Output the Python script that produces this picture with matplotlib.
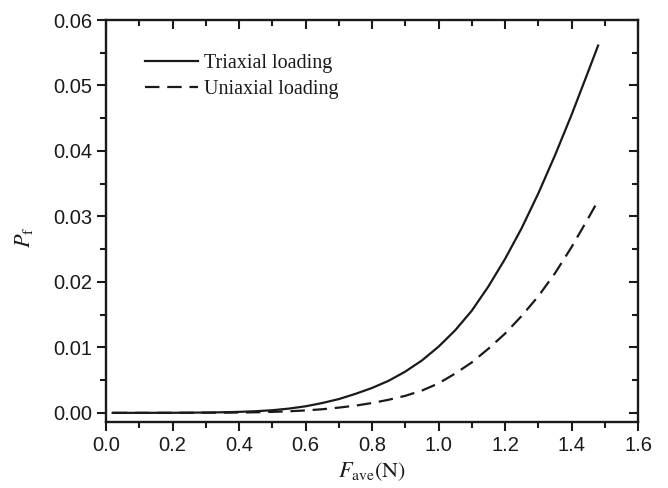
import matplotlib
matplotlib.use("Agg")
import matplotlib.pyplot as plt
from matplotlib.ticker import MultipleLocator, FormatStrFormatter

# Average force F_ave (N) and failure probability P_f
force = [0.02, 0.05, 0.10, 0.15, 0.20, 0.25, 0.30, 0.35, 0.40, 0.45, 0.50,
         0.55, 0.60, 0.65, 0.70, 0.75, 0.80, 0.85, 0.90, 0.95, 1.00, 1.05,
         1.10, 1.15, 1.20, 1.25, 1.30, 1.35, 1.40, 1.45, 1.48]
pf_triaxial = [0.0, 0.0, 0.0, 0.000005, 0.00001, 0.00003, 0.00005, 0.00009,
               0.00015, 0.00025, 0.0004, 0.00065, 0.0010, 0.0015, 0.0021,
               0.0029, 0.0038, 0.0049, 0.0063, 0.0080, 0.0101, 0.0126,
               0.0156, 0.0193, 0.0235, 0.0282, 0.0335, 0.0393, 0.0455,
               0.0521, 0.0561]
pf_uniaxial = [0.0, 0.0, 0.0, 0.0, 0.000005, 0.00001, 0.00002, 0.00003,
               0.00005, 0.00009, 0.00015, 0.00024, 0.00037, 0.00055, 0.0008,
               0.0011, 0.0015, 0.0020, 0.0026, 0.0034, 0.0045, 0.0060,
               0.0077, 0.0098, 0.0121, 0.0148, 0.0178, 0.0213, 0.0253,
               0.0297, 0.0324]
series_labels = ["Triaxial loading", "Uniaxial loading"]

plt.rcParams["mathtext.fontset"] = "stix"
ink = "#1a1a1a"

fig = plt.figure(figsize=(6.68, 4.88), dpi=100)
ax = fig.add_axes([0.1587, 0.1352, 0.7964, 0.8238])

ax.plot(force, pf_triaxial, color=ink, lw=1.6, label=series_labels[0])
ax.plot(force, pf_uniaxial, color=ink, lw=1.6, dashes=(6.5, 3.5),
        label=series_labels[1])

ax.set_xlim(0.0, 1.6)
ax.set_ylim(-0.0014, 0.06)
ax.xaxis.set_major_locator(MultipleLocator(0.2))
ax.xaxis.set_minor_locator(MultipleLocator(0.1))
ax.yaxis.set_major_locator(MultipleLocator(0.01))
ax.yaxis.set_minor_locator(MultipleLocator(0.005))
ax.xaxis.set_major_formatter(FormatStrFormatter("%.1f"))
ax.yaxis.set_major_formatter(FormatStrFormatter("%.2f"))

for s in ax.spines.values():
    s.set_linewidth(1.7)
    s.set_color(ink)

ax.tick_params(axis="both", which="both", color=ink, width=1.5,
               labelsize=14.5, labelcolor=ink)
ax.tick_params(axis="both", which="major", length=6.5)
ax.tick_params(axis="both", which="minor", length=4.3)
ax.tick_params(axis="x", which="both", direction="out", top=False)
ax.tick_params(axis="y", which="both", direction="out", right=False)
for lab in ax.get_xticklabels() + ax.get_yticklabels():
    lab.set_family("Liberation Sans")

# inward ticks on the top and right edges
top = ax.secondary_xaxis("top")
top.xaxis.set_major_locator(MultipleLocator(0.2))
top.xaxis.set_minor_locator(MultipleLocator(0.1))
top.tick_params(axis="x", which="both", direction="in", color=ink, width=1.5,
                labeltop=False)
top.tick_params(which="major", length=6.5)
top.tick_params(which="minor", length=4.3)
top.spines["top"].set_visible(False)
right = ax.secondary_yaxis("right")
right.yaxis.set_major_locator(MultipleLocator(0.01))
right.yaxis.set_minor_locator(MultipleLocator(0.005))
right.tick_params(axis="y", which="both", direction="in", color=ink,
                  width=1.5, labelright=False)
right.tick_params(which="major", length=6.5)
right.tick_params(which="minor", length=4.3)
right.spines["right"].set_visible(False)

ax.set_xlabel(r"$F_{\mathrm{ave}}\mathrm{(N)}$", fontsize=16, color=ink,
              labelpad=4)
ax.set_ylabel(r"$P_{\mathrm{f}}$", fontsize=16, color=ink, labelpad=13)
ax.yaxis.label.set_y(0.46)

leg = ax.legend(loc="upper left", bbox_to_anchor=(0.04, 0.96), frameon=False,
                prop={"family": "Liberation Serif", "size": 14.5},
                handlelength=2.6, handletextpad=0.3, labelspacing=0.35)
for t in leg.get_texts():
    t.set_color(ink)

fig.savefig("out.png", dpi=100)
